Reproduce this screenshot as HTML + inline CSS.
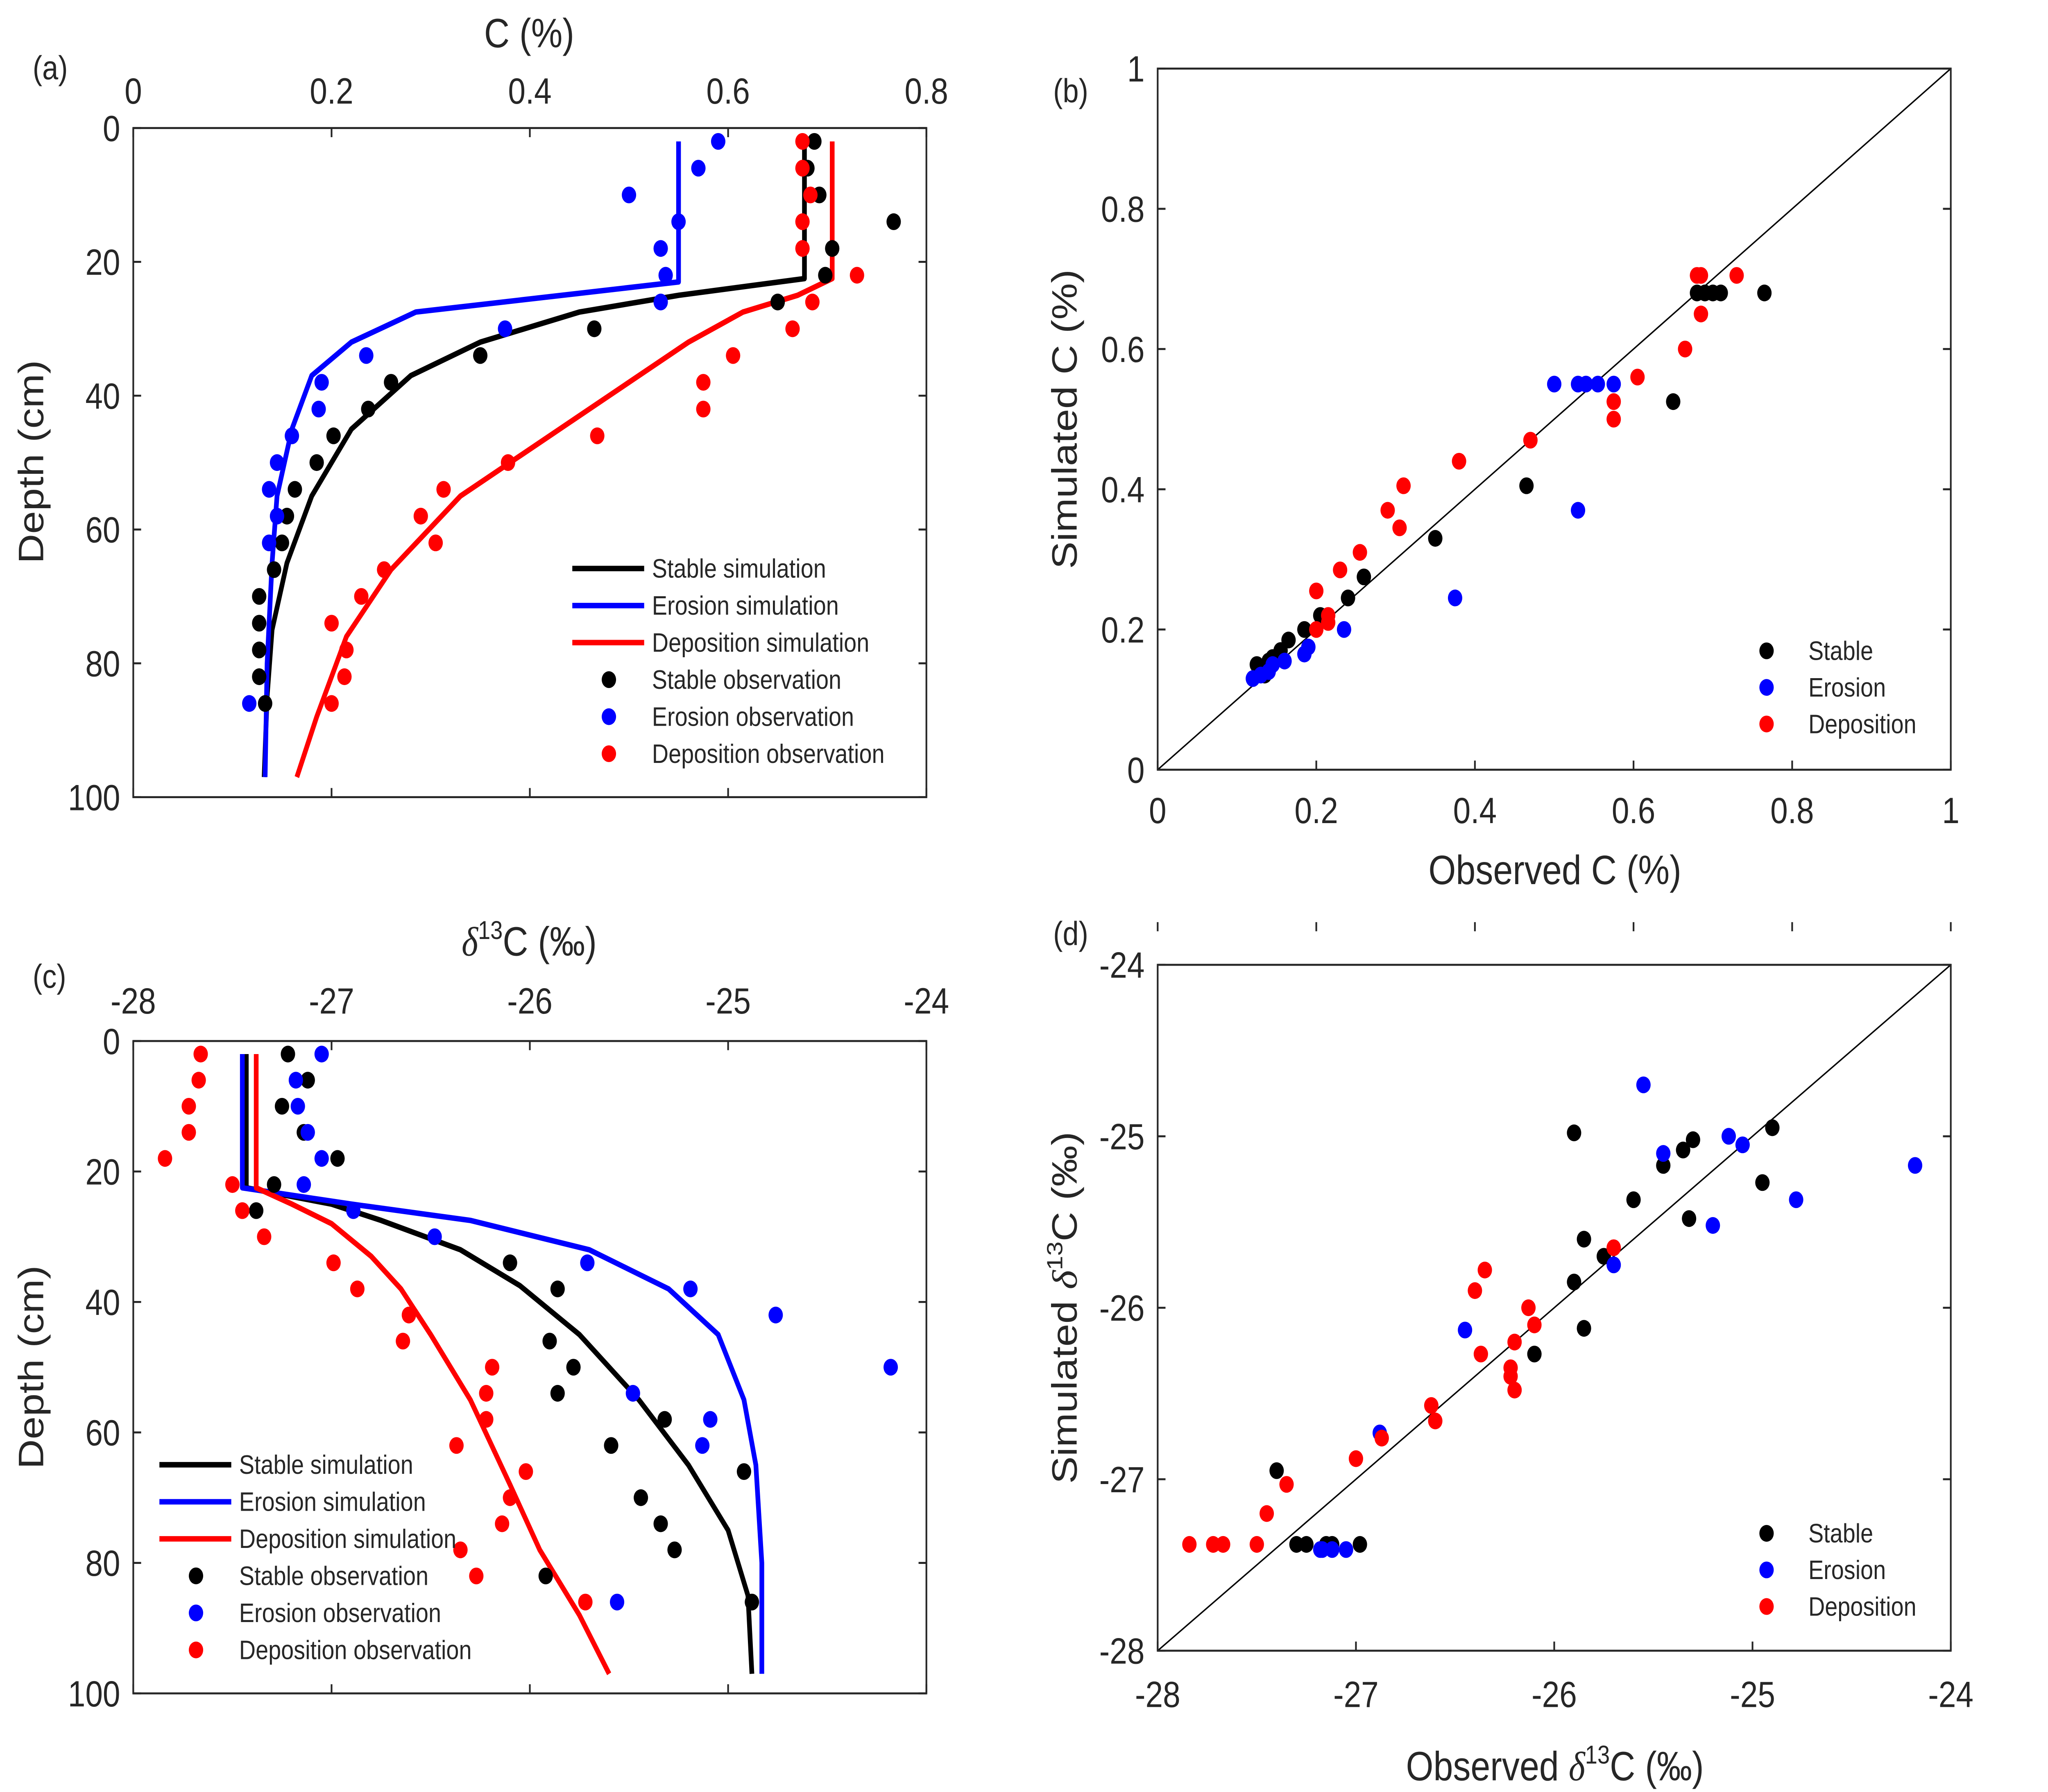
<!DOCTYPE html>
<html><head><meta charset="utf-8"><style>
html,body{margin:0;padding:0;background:#fff;width:100%;height:100%;overflow:hidden}
svg{display:block;width:100vw;height:100vh}
text{font-family:"Liberation Sans",Arial,sans-serif;fill:#262626}
</style></head><body>
<svg id="fig" viewBox="0 0 1567.4 1175.7" preserveAspectRatio="none" xmlns="http://www.w3.org/2000/svg"></svg>
<script>
// ---------- Panel (a) data: C (%) vs depth ----------
const aDepth = [2,6,10,14,18,22,26,30,34,38,42,46,50,54,58,62,66,70,74,78,82,86];
const aStableObs = [0.687,0.680,0.692,0.767,0.705,0.698,0.650,0.465,0.350,0.260,0.237,0.202,0.185,0.163,0.155,0.150,0.142,0.127,0.127,0.127,0.127,0.133];
const aErosionDepth = [2,6,10,14,18,22,26,30,34,38,42,46,50,54,58,62,86];
const aErosionObs = [0.590,0.570,0.500,0.550,0.532,0.537,0.532,0.375,0.235,0.190,0.187,0.160,0.145,0.137,0.145,0.137,0.117];
const aDepositionObs = [0.675,0.675,0.683,0.675,0.675,0.730,0.685,0.665,0.605,0.575,0.575,0.468,0.378,0.313,0.290,0.305,0.253,0.230,0.200,0.215,0.213,0.200];
const aStableSimC = [0.677,0.677,0.55,0.45,0.35,0.28,0.22,0.18,0.155,0.14,0.135,0.132];
const aStableSimD = [2,22.5,25,27.5,32,37,45,55,65,75,85,97];
const aErosionSimC = [0.55,0.55,0.285,0.22,0.18,0.16,0.145,0.14,0.135,0.133];
const aErosionSimD = [2,23,27.5,32,37,45,55,65,80,97];
const aDepositionSimC = [0.705,0.705,0.67,0.615,0.56,0.48,0.42,0.33,0.26,0.215,0.185,0.165];
const aDepositionSimD = [2,22.5,25,27.5,32,40,46,55,66,76,88,97];

// ---------- Panel (b) data: observed vs simulated C ----------
const bStableObs = [0.765,0.68,0.69,0.70,0.71,0.65,0.465,0.35,0.26,0.24,0.205,0.185,0.165,0.155,0.145,0.14,0.125,0.13,0.135];
const bStableSim = [0.68,0.68,0.68,0.68,0.68,0.525,0.405,0.33,0.275,0.245,0.22,0.2,0.185,0.17,0.16,0.155,0.15,0.14,0.135];
const bErosionObs = [0.50,0.53,0.54,0.555,0.575,0.53,0.375,0.235,0.19,0.185,0.16,0.145,0.14,0.12,0.13];
const bErosionSim = [0.55,0.55,0.55,0.55,0.55,0.37,0.245,0.2,0.175,0.165,0.155,0.15,0.14,0.13,0.135];
const bDepositionObs = [0.73,0.68,0.685,0.685,0.665,0.605,0.575,0.575,0.47,0.38,0.31,0.29,0.305,0.255,0.23,0.2,0.215,0.2,0.215];
const bDepositionSim = [0.705,0.705,0.705,0.65,0.6,0.56,0.525,0.5,0.47,0.44,0.405,0.37,0.345,0.31,0.285,0.255,0.22,0.2,0.21];

// ---------- Panel (c) data: d13C vs depth ----------
const cStableDepth = [2,6,10,14,18,22,26,34,38,46,50,54,58,62,66,70,74,78,82,86];
const cStableObs = [-27.22,-27.12,-27.25,-27.14,-26.97,-27.29,-27.38,-26.10,-25.86,-25.90,-25.78,-25.86,-25.32,-25.59,-24.92,-25.44,-25.34,-25.27,-25.92,-24.88];
const cErosionDepth = [2,6,10,14,18,22,26,30,34,38,42,50,54,58,62,86];
const cErosionObs = [-27.05,-27.18,-27.17,-27.12,-27.05,-27.14,-26.89,-26.48,-25.71,-25.19,-24.76,-24.18,-25.48,-25.09,-25.13,-25.56];
const cDepositionDepth = [2,6,10,14,18,22,26,30,34,38,42,46,50,54,58,62,66,70,74,78,82,86];
const cDepositionObs = [-27.66,-27.67,-27.72,-27.72,-27.84,-27.50,-27.45,-27.34,-26.99,-26.87,-26.61,-26.64,-26.19,-26.22,-26.22,-26.37,-26.02,-26.10,-26.14,-26.35,-26.27,-25.72];
const cStableSimV = [-27.43,-27.43,-27.0,-26.75,-26.35,-26.05,-25.75,-25.45,-25.2,-25.0,-24.9,-24.88];
const cStableSimD = [2,22.5,25,27.5,32,37.5,45,55,65,75,85,97];
const cErosionSimV = [-27.45,-27.45,-26.9,-26.3,-25.7,-25.3,-25.05,-24.92,-24.86,-24.83,-24.83];
const cErosionSimD = [2,22.5,25,27.5,32,38,45,55,65,80,97];
const cDepositionSimV = [-27.38,-27.38,-27.2,-27.0,-26.8,-26.65,-26.5,-26.3,-26.1,-25.95,-25.75,-25.6];
const cDepositionSimD = [2,22.5,25,28,33,38,45,55,68,78,88,97];

// ---------- Panel (d) data: observed vs simulated d13C ----------
const dStableObs = [-25.9,-24.9,-25.3,-25.35,-25.45,-25.6,-24.95,-25.32,-25.85,-25.75,-25.9,-25.85,-26.1,-27.4,-27.25,-27.3,-27.15,-27.12,-26.98];
const dStableSim = [-24.98,-24.95,-25.02,-25.08,-25.17,-25.37,-25.27,-25.48,-25.6,-25.7,-25.85,-26.12,-26.27,-26.95,-27.38,-27.38,-27.38,-27.38,-27.38];
const dErosionObs = [-25.55,-25.45,-25.12,-25.05,-24.18,-24.78,-25.2,-25.7,-26.45,-26.88,-27.05,-27.12,-27.17,-27.18];
const dErosionSim = [-24.7,-25.1,-25.0,-25.05,-25.17,-25.37,-25.52,-25.75,-26.13,-26.73,-27.41,-27.41,-27.41,-27.41];
const dDepositionObs = [-25.7,-26.35,-26.4,-26.13,-26.1,-26.2,-26.37,-26.22,-26.22,-26.2,-26.62,-26.6,-26.87,-27.0,-27.35,-27.45,-27.84,-27.72,-27.67,-27.5];
const dDepositionSim = [-25.65,-25.78,-25.9,-26.0,-26.1,-26.2,-26.27,-26.35,-26.4,-26.48,-26.57,-26.66,-26.76,-26.88,-27.03,-27.2,-27.38,-27.38,-27.38,-27.38];

const tickC = ["0","0.2","0.4","0.6","0.8"];
const tickDepth = ["0","20","40","60","80","100"];
const tickUnit = ["0","0.2","0.4","0.6","0.8","1"];
const tickD13 = ["-28","-27","-26","-25","-24"];

const NS="http://www.w3.org/2000/svg";
const svg=document.getElementById('fig');
function el(tag,attrs,parent,txt){const e=document.createElementNS(NS,tag);for(const k in attrs)e.setAttribute(k,attrs[k]);if(txt!==undefined)e.textContent=txt;(parent||svg).appendChild(e);return e;}
function lin(d0,d1,p0,p1){return v=>p0+(v-d0)*(p1-p0)/(d1-d0);}
const AX='#262626';
const COL={k:'#000000',b:'#0000ff',r:'#ff0000'};

function frame(g,L,T,R,B){
  const r=el('rect',{x:L,y:T,width:R-L,height:B-T,fill:'none',stroke:AX,'stroke-width':1.3},g);
  
  
}
function txt(g,x,y,s,size,anchor,name,rot){
  const t=el('text',{x:x,y:y,'font-size':size,'text-anchor':anchor||'middle'},g,s);
  if(rot)t.setAttribute('transform','rotate(-90 '+x+' '+y+')');
  
  
  return t;
}
function tickX(g,sx,vals,labels,T,B,ly,name){
  vals.forEach((v,i)=>{const x=sx(v);
    el('line',{x1:x,y1:T,x2:x,y2:T+6,stroke:AX,'stroke-width':1.3},g);
    el('line',{x1:x,y1:B,x2:x,y2:B-6,stroke:AX,'stroke-width':1.3},g);
    txt(g,x,ly,labels[i],24,'middle',name);});
}
function tickY(g,sy,vals,labels,L,R,lx,name){
  vals.forEach((v,i)=>{const y=sy(v);
    el('line',{x1:L,y1:y,x2:L+6,y2:y,stroke:AX,'stroke-width':1.3},g);
    el('line',{x1:R,y1:y,x2:R-6,y2:y,stroke:AX,'stroke-width':1.3},g);
    txt(g,lx,y+8.5,labels[i],24,'end',name);});
}
function dots(g,xs,ys,sx,sy,c,name){
  xs.forEach((v,i)=>{const d=el('circle',{cx:sx(v),cy:sy(ys[i]),r:5.5,fill:c},g);
    
    });
}
function line(g,xs,ys,sx,sy,c,name){
  const p=el('polyline',{points:xs.map((v,i)=>sx(v)+','+sy(ys[i])).join(' '),fill:'none',stroke:c,'stroke-width':3.6,'stroke-linejoin':'round'},g);
  
  
}
function legend(g,items,x0,y0,dy,withLines,name){
  items.forEach((it,i)=>{const y=y0+i*dy;
    const lg=el('g',{},g);
    
    
    if(it.line){el('line',{x1:x0,y1:y,x2:x0+55,y2:y,stroke:it.c,'stroke-width':3.6},lg);txt(lg,x0+61,y+6,it.t,17.5,'start','legend-label');}
    else if(withLines){el('circle',{cx:x0+28,cy:y,r:5.5,fill:it.c},lg);txt(lg,x0+61,y+6,it.t,17.5,'start','legend-label');}
    else{el('circle',{cx:x0,cy:y,r:5.5,fill:it.c},lg);txt(lg,x0+32,y+6,it.t,17.5,'start','legend-label');}
  });
}

// ---------- Panel (a) ----------
(function(){
  const g=el('g',{});
  const L=102,R=709,T=84,B=523;
  const sx=lin(0,0.8,L,R), sy=lin(0,100,T,B);
  line(g,aStableSimC,aStableSimD,sx,sy,COL.k,'stable-simulation-line');
  line(g,aErosionSimC,aErosionSimD,sx,sy,COL.b,'erosion-simulation-line');
  line(g,aDepositionSimC,aDepositionSimD,sx,sy,COL.r,'deposition-simulation-line');
  dots(g,aStableObs,aDepth,sx,sy,COL.k,'stable-observation-point');
  dots(g,aErosionObs,aErosionDepth,sx,sy,COL.b,'erosion-observation-point');
  dots(g,aDepositionObs,aDepth,sx,sy,COL.r,'deposition-observation-point');
  frame(g,L,T,R,B);
  tickX(g,sx,[0,0.2,0.4,0.6,0.8],tickC,T,B,68,'x-tick-label');
  tickY(g,sy,[0,20,40,60,80,100],tickDepth,L,R,92,'y-tick-label');
  txt(g,405,31,'C (%)',27,'middle','x-axis-title');
  txt(g,33,303,'Depth (cm)',27,'middle','y-axis-title',true);
  txt(g,25,52,'(a)',22,'start','panel-label');
  legend(g,[{t:'Stable simulation',c:COL.k,line:1},{t:'Erosion simulation',c:COL.b,line:1},{t:'Deposition simulation',c:COL.r,line:1},
    {t:'Stable observation',c:COL.k},{t:'Erosion observation',c:COL.b},{t:'Deposition observation',c:COL.r}],438,373,24.3,true,'legend-entry');
})();

// ---------- Panel (b) ----------
(function(){
  const g=el('g',{});
  const L=886,R=1493,T=45,B=505;
  const sx=lin(0,1,L,R), sy=lin(0,1,B,T);
  el('line',{x1:L,y1:B,x2:R,y2:T,stroke:'#000','stroke-width':1},g);
  dots(g,bStableObs,bStableSim,sx,sy,COL.k,'stable-point');
  dots(g,bErosionObs,bErosionSim,sx,sy,COL.b,'erosion-point');
  dots(g,bDepositionObs,bDepositionSim,sx,sy,COL.r,'deposition-point');
  frame(g,L,T,R,B);
  tickX(g,sx,[0,0.2,0.4,0.6,0.8,1],tickUnit,B+100,B,540,'x-tick-label');
  tickY(g,sy,[0,0.2,0.4,0.6,0.8,1],tickUnit,L,R,876,'y-tick-label');
  txt(g,1190,580,'Observed C (%)',27,'middle','x-axis-title');
  txt(g,824,275,'Simulated C (%)',27,'middle','y-axis-title',true);
  txt(g,806,67,'(b)',22,'start','panel-label');
  legend(g,[{t:'Stable',c:COL.k},{t:'Erosion',c:COL.b},{t:'Deposition',c:COL.r}],1352,427,24,false,'legend-entry');
})();

// ---------- Panel (c) ----------
(function(){
  const g=el('g',{});
  const L=102,R=709,T=683,B=1111;
  const sx=lin(-28,-24,L,R), sy=lin(0,100,T,B);
  line(g,cStableSimV,cStableSimD,sx,sy,COL.k,'stable-simulation-line');
  line(g,cErosionSimV,cErosionSimD,sx,sy,COL.b,'erosion-simulation-line');
  line(g,cDepositionSimV,cDepositionSimD,sx,sy,COL.r,'deposition-simulation-line');
  dots(g,cStableObs,cStableDepth,sx,sy,COL.k,'stable-observation-point');
  dots(g,cErosionObs,cErosionDepth,sx,sy,COL.b,'erosion-observation-point');
  dots(g,cDepositionObs,cDepositionDepth,sx,sy,COL.r,'deposition-observation-point');
  frame(g,L,T,R,B);
  tickX(g,sx,[-28,-27,-26,-25,-24],tickD13,T,B,665,'x-tick-label');
  tickY(g,sy,[0,20,40,60,80,100],tickDepth,L,R,92,'y-tick-label');
  const t=txt(g,405,627,'',27,'middle','x-axis-title');
  t.innerHTML='<tspan font-style="italic" font-family="Liberation Serif">δ</tspan><tspan font-size="17" dy="-11">13</tspan><tspan dy="11">C (‰)</tspan>';
  txt(g,33,897,'Depth (cm)',27,'middle','y-axis-title',true);
  txt(g,25,648,'(c)',22,'start','panel-label');
  legend(g,[{t:'Stable simulation',c:COL.k,line:1},{t:'Erosion simulation',c:COL.b,line:1},{t:'Deposition simulation',c:COL.r,line:1},
    {t:'Stable observation',c:COL.k},{t:'Erosion observation',c:COL.b},{t:'Deposition observation',c:COL.r}],122,961,24.3,true,'legend-entry');
})();

// ---------- Panel (d) ----------
(function(){
  const g=el('g',{});
  const L=886,R=1493,T=633,B=1083;
  const sx=lin(-28,-24,L,R), sy=lin(-28,-24,B,T);
  el('line',{x1:L,y1:B,x2:R,y2:T,stroke:'#000','stroke-width':1},g);
  dots(g,dStableObs,dStableSim,sx,sy,COL.k,'stable-point');
  dots(g,dErosionObs,dErosionSim,sx,sy,COL.b,'erosion-point');
  dots(g,dDepositionObs,dDepositionSim,sx,sy,COL.r,'deposition-point');
  frame(g,L,T,R,B);
  tickX(g,sx,[-28,-27,-26,-25,-24],tickD13,B+100,B,1120,'x-tick-label');
  tickY(g,sy,[-28,-27,-26,-25,-24],tickD13,L,R,876,'y-tick-label');
  const t=txt(g,1190,1168,'',27,'middle','x-axis-title');
  t.innerHTML='Observed <tspan font-style="italic" font-family="Liberation Serif">δ</tspan><tspan font-size="17" dy="-11">13</tspan><tspan dy="11">C (‰)</tspan>';
  const t2=txt(g,824,858,'',27,'middle','y-axis-title',true);
  t2.innerHTML='Simulated <tspan font-style="italic" font-family="Liberation Serif">δ</tspan><tspan font-size="17" dy="-11">13</tspan><tspan dy="11">C (‰)</tspan>';
  txt(g,806,620,'(d)',22,'start','panel-label');
  legend(g,[{t:'Stable',c:COL.k},{t:'Erosion',c:COL.b},{t:'Deposition',c:COL.r}],1352,1006,24,false,'legend-entry');
})();
</script>
</body></html>
